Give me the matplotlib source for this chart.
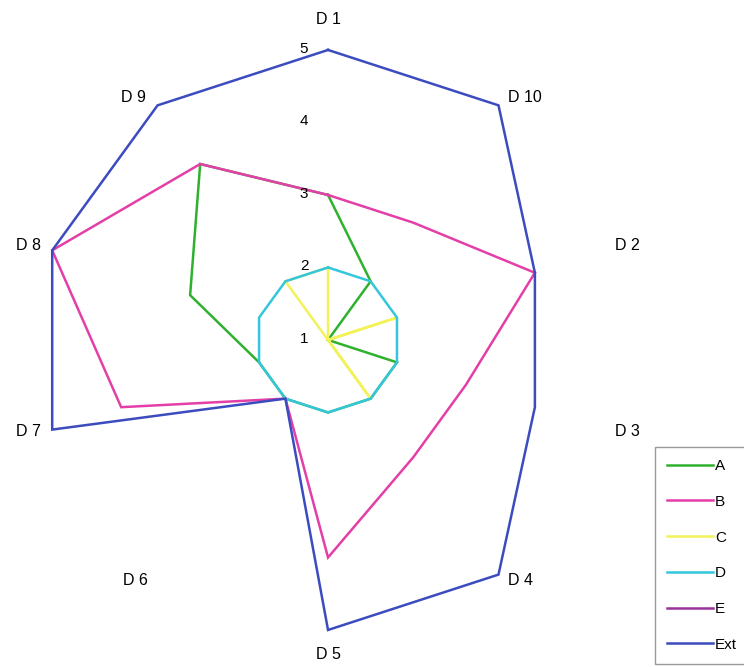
import numpy as np
import matplotlib.pyplot as plt

plt.rcParams['font.family'] = ['Liberation Sans', 'DejaVu Sans']

# categories clockwise from the top
categories = ["D 1", "D 10", "D 2", "D 3", "D 4", "D 5", "D 6", "D 7", "D 8", "D 9"]
series_names = ["A", "B", "C", "D", "E", "Ext"]
A = [3, 2, 1, 2, 2, 2, 2, 2, 3, 4]
B = [3, 3, 4, 3, 3, 4, 2, 4, 5, 4]
C = [2, 1, 2, 1, 2, 1, 1, 1, 1, 2]
D = [2, 2, 2, 2, 2, 2, 2, 2, 2, 2]
E = [1, 1, 1, 1, 1, 1, 1, 1, 1, 1]
Ext = [5, 5, 4, 4, 5, 5, 2, 5, 5, 5]
r_ticks = [1, 2, 3, 4, 5]

colors = ["#2fb12f", "#e43fa8", "#f2f25a", "#35c6dc", "#993399", "#3c4cbf"]

# pixel offsets of each category label from the outer ring point
label_offsets = [(0, 30), (26, 8), (24, 5), (24, -1.5), (22, -6),
                 (0, -24.5), (-22, -6), (-24, -1.5), (-24, 5), (-24, 8)]

fig = plt.figure(figsize=(7.44, 6.67), dpi=100)
ax = fig.add_axes([0.0511, 0.0555, 0.7796, 0.8696], projection="polar")
ax.set_theta_offset(np.pi / 2)
ax.set_theta_direction(-1)
ax.set_ylim(1, 5)
ax.grid(False)
ax.spines["polar"].set_visible(False)
ax.set_xticks([])
ax.set_yticks([])

n = len(categories)
theta = np.linspace(0, 2 * np.pi, n, endpoint=False)
theta_closed = np.append(theta, theta[0])

for name, vals, col in zip(series_names, [A, B, C, D, E, Ext], colors):
    ax.plot(theta_closed, vals + vals[:1], color=col, linewidth=1.8,
            label=name, solid_joinstyle="miter", clip_on=False)

# category labels outside the outer ring
for t, lab, (dx, dy) in zip(theta, categories, label_offsets):
    ax.annotate(lab, (t, 5), xytext=(dx * 0.72, dy * 0.72),
                textcoords="offset points", ha="center", va="center",
                fontsize=11.5, annotation_clip=False)

# radial value labels left of the top axis
for v in r_ticks:
    ax.annotate(str(v), (0, v), xytext=(-24 * 0.72, 1 * 0.72),
                textcoords="offset points", ha="center", va="center",
                fontsize=11, annotation_clip=False)

fig.legend(loc="upper left", bbox_to_anchor=(0.880, 0.330),
           fontsize=11, frameon=True, fancybox=False, edgecolor="#808080",
           handlelength=3.0, handletextpad=0.15, labelspacing=1.42,
           borderpad=0.8, borderaxespad=0)

fig.savefig("out.png", dpi=100)
